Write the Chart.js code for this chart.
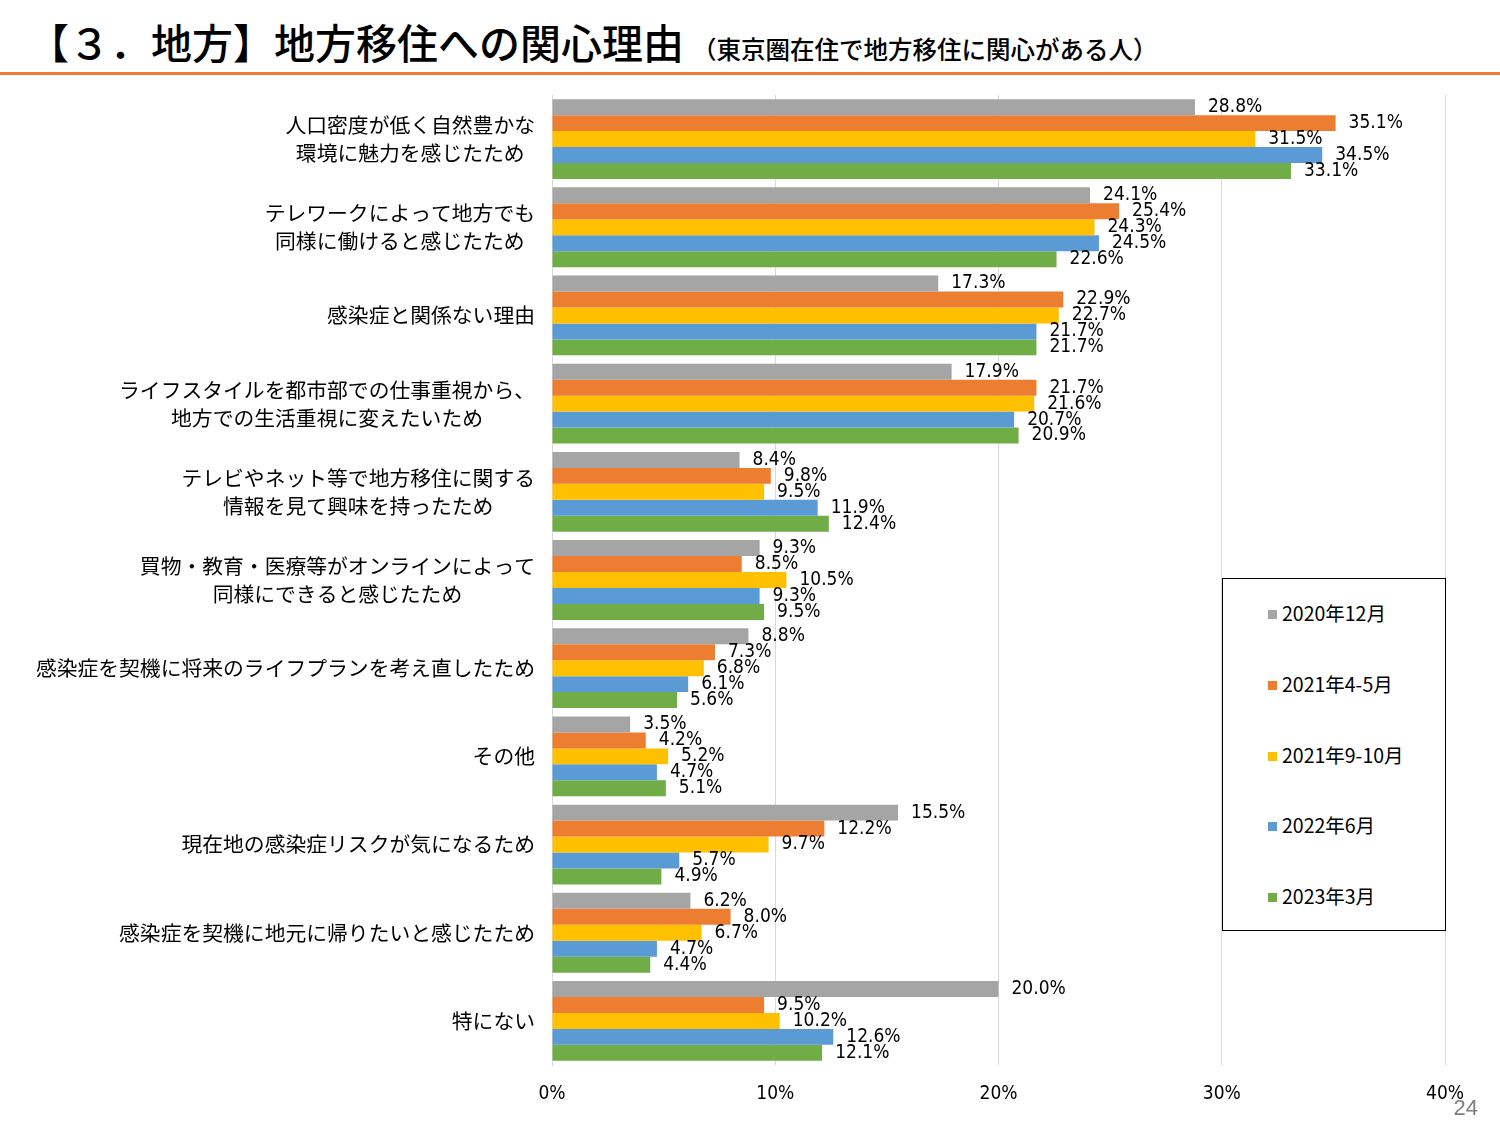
<!DOCTYPE html>
<html lang="ja">
<head>
<meta charset="utf-8">
<script src="https://cdn.jsdelivr.net/npm/chart.js@4.4.0/dist/chart.umd.min.js"></script>
<style>
  html, body { margin: 0; padding: 0; background: #fff; }
  body { width: 1500px; height: 1125px; position: relative; overflow: hidden; font-family: 'Noto Sans CJK JP', sans-serif; }
  #title { position: absolute; left: 28px; top: 11px; font-size: 41px; color: #000; white-space: nowrap; font-weight: 500; }
  #title small { font-size: 24.5px; margin-left: 8px; font-weight: 500; }
  #rule { position: absolute; left: 0; top: 72px; width: 1500px; height: 3px; background: #ED7D31; }
  #wrap { position: absolute; left: 0; top: 0; width: 1500px; height: 1125px; }
  #legend { position: absolute; left: 1222px; top: 578px; width: 222px; height: 351px; border: 1.5px solid #000; background: #fff; }
  .leg-item { position: absolute; left: 45px; font-size: 19.5px; line-height: 22px; color: #000; white-space: nowrap; }
  .leg-dot { display: inline-block; width: 9px; height: 9px; margin-right: 5px; vertical-align: 2px; }
  #page { position: absolute; right: 22px; top: 1095px; font-size: 22px; color: #7f7f7f; font-family: 'Liberation Sans Narrow', sans-serif; }
</style>
</head>
<body>
<div id="title">【３．地方】地方移住への関心理由<small>（東京圏在住で地方移住に関心がある人）</small></div>
<div id="rule"></div>
<div id="wrap"><canvas id="barChart" width="1500" height="1125"></canvas></div>
<div id="legend"></div>
<div id="page">24</div>

<script>
'use strict';

// ── Data ──────────────────────────────────────────────────
const categories = [
  ['人口密度が低く自然豊かな', '環境に魅力を感じたため'],
  ['テレワークによって地方でも', '同様に働けると感じたため'],
  '感染症と関係ない理由',
  ['ライフスタイルを都市部での仕事重視から、', '地方での生活重視に変えたいため'],
  ['テレビやネット等で地方移住に関する', '情報を見て興味を持ったため'],
  ['買物・教育・医療等がオンラインによって', '同様にできると感じたため'],
  '感染症を契機に将来のライフプランを考え直したため',
  'その他',
  '現在地の感染症リスクが気になるため',
  '感染症を契機に地元に帰りたいと感じたため',
  '特にない'
];

const seriesNames = ['2020年12月', '2021年4-5月', '2021年9-10月', '2022年6月', '2023年3月'];
const seriesColors = ['#A5A5A5', '#ED7D31', '#FFC000', '#5B9BD5', '#70AD47'];

const v2020_12 = [28.8, 24.1, 17.3, 17.9, 8.4, 9.3, 8.8, 3.5, 15.5, 6.2, 20.0];
const v2021_45 = [35.1, 25.4, 22.9, 21.7, 9.8, 8.5, 7.3, 4.2, 12.2, 8.0, 9.5];
const v2021_910 = [31.5, 24.3, 22.7, 21.6, 9.5, 10.5, 6.8, 5.2, 9.7, 6.7, 10.2];
const v2022_06 = [34.5, 24.5, 21.7, 20.7, 11.9, 9.3, 6.1, 4.7, 5.7, 4.7, 12.6];
const v2023_03 = [33.1, 22.6, 21.7, 20.9, 12.4, 9.5, 5.6, 5.1, 4.9, 4.4, 12.1];
const seriesValues = [v2020_12, v2021_45, v2021_910, v2022_06, v2023_03];

const xTicks = [0, 10, 20, 30, 40];

const NARROW = "'Liberation Sans Narrow', 'DejaVu Sans Condensed', sans-serif";
const CAT_FONT = "20.8px 'Noto Sans CJK JP', sans-serif";

// ── Value labels at bar ends ──────────────────────────────
const valueLabels = {
  id: 'valueLabels',
  afterDatasetsDraw(chart) {
    const ctx = chart.ctx;
    ctx.save();
    ctx.font = `19px ${NARROW}`;
    ctx.fillStyle = '#000';
    ctx.textAlign = 'left';
    ctx.textBaseline = 'middle';
    chart.data.datasets.forEach((ds, di) => {
      const meta = chart.getDatasetMeta(di);
      meta.data.forEach((bar, i) => {
        ctx.fillText(ds.data[i].toFixed(1) + '%', bar.x + 13, bar.y);
      });
    });
    ctx.restore();
  }
};

// ── Category labels (lines centred in a right-aligned block) ──
const catLabels = {
  id: 'catLabels',
  afterDraw(chart) {
    const ctx = chart.ctx;
    const y = chart.scales.y;
    const right = y.right - 17;
    const lh = 28;
    ctx.save();
    ctx.font = CAT_FONT;
    ctx.fillStyle = '#000';
    ctx.textAlign = 'center';
    ctx.textBaseline = 'middle';
    categories.forEach((c, i) => {
      const lines = Array.isArray(c) ? c : [c];
      const w = Math.max(...lines.map(l => ctx.measureText(l).width));
      const cx = right - w / 2;
      const cy = y.getPixelForValue(i);
      lines.forEach((l, k) => {
        ctx.fillText(l, cx, cy + (k - (lines.length - 1) / 2) * lh);
      });
    });
    ctx.restore();
  }
};

// ── Chart ─────────────────────────────────────────────────
new Chart(document.getElementById('barChart'), {
  type: 'bar',
  data: {
    labels: categories,
    datasets: seriesNames.map((name, i) => ({
      label: name,
      data: seriesValues[i],
      backgroundColor: seriesColors[i],
      borderWidth: 0,
      barPercentage: 1.0,
      categoryPercentage: 0.905
    }))
  },
  options: {
    indexAxis: 'y',
    responsive: false,
    animation: false,
    layout: { padding: { top: 95, right: 55, bottom: 0, left: 0 } },
    plugins: { legend: { display: false }, tooltip: { enabled: false } },
    scales: {
      x: {
        min: 0,
        max: 40,
        afterBuildTicks: s => { s.ticks = xTicks.map(v => ({ value: v })); },
        afterFit: s => { s.height = 60; },
        grid: { color: '#D9D9D9', drawTicks: false, lineWidth: 1 },
        border: { display: false },
        ticks: {
          padding: 18,
          color: '#000',
          font: { family: NARROW, size: 19 },
          callback: v => v + '%'
        }
      },
      y: {
        afterFit: s => { s.width = 552; },
        grid: { display: false, drawTicks: false },
        border: { display: true, color: '#D9D9D9' },
        ticks: { display: false }
      }
    }
  },
  plugins: [valueLabels, catLabels]
});

// ── Legend box ────────────────────────────────────────────
const legendCenters = [613, 684, 755, 825, 896];
const legend = document.getElementById('legend');
seriesNames.forEach((name, i) => {
  legend.innerHTML += `<div class="leg-item" style="top:${legendCenters[i] - 578 - 12}px"><span class="leg-dot" style="background:${seriesColors[i]}"></span>${name}</div>`;
});
</script>
</body>
</html>
